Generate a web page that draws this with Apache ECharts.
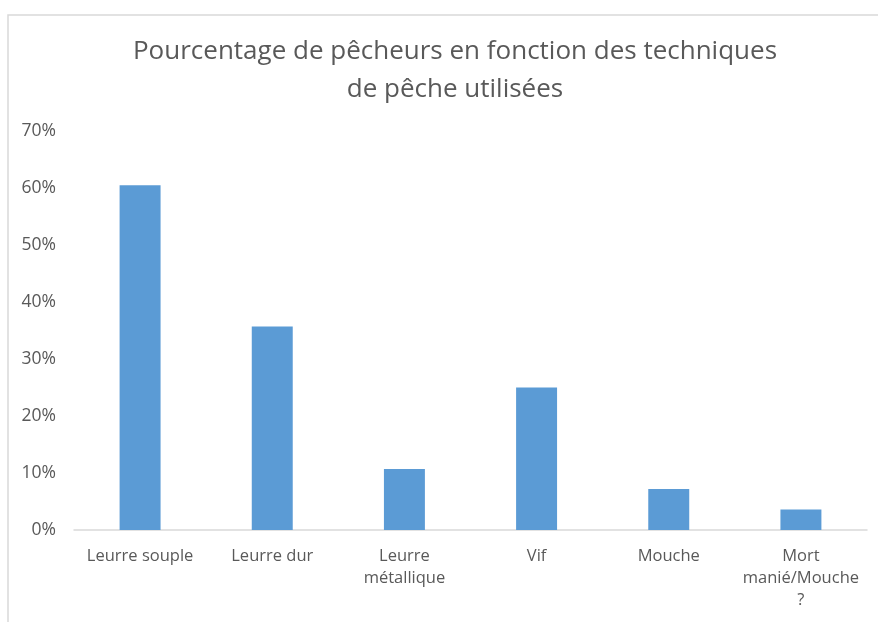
<!DOCTYPE html>
<html>
<head>
<meta charset="utf-8">
<script src="https://cdn.jsdelivr.net/npm/echarts@6/dist/echarts.min.js"></script>
<style>
  html, body { margin: 0; padding: 0; background: #fff; }
  #chart { width: 878px; height: 622px; }
</style>
</head>
<body>
<div id="chart"></div>
<script>
// catégories (axe x) et valeurs en %
var categories = ['Leurre souple', 'Leurre dur', 'Leurre\nmétallique', 'Vif', 'Mouche', 'Mort\nmanié/Mouche\n?'];
var values = [60.5, 35.7, 10.7, 25.0, 7.2, 3.6];
var yTicks = [0, 10, 20, 30, 40, 50, 60, 70];

var textColor = '#595959';
var font = '"Open Sans", "Liberation Sans", sans-serif';

var option = {
    animation: false,
    backgroundColor: '#fff',
    title: {
        text: 'Pourcentage de pêcheurs en fonction des techniques\nde pêche utilisées',
        left: 450,
        top: 28,
        textAlign: 'center',
        textStyle: {
            color: textColor,
            fontFamily: font,
            fontWeight: 'normal',
            fontSize: 26,
            lineHeight: 38
        }
    },
    graphic: [{
        type: 'rect',
        shape: { x: 8, y: 15, width: 900, height: 700 },
        style: { fill: 'none', stroke: '#d9d9d9', lineWidth: 1.5 },
        silent: true
    }],
    grid: { left: 74, right: 11, top: 131, bottom: 92 },
    xAxis: {
        type: 'category',
        data: categories,
        axisTick: { show: false },
        axisLine: { lineStyle: { color: '#d9d9d9', width: 1.5 } },
        axisLabel: {
            color: textColor,
            fontFamily: font,
            fontSize: 16.5,
            lineHeight: 22,
            margin: 15,
            interval: 0
        }
    },
    yAxis: {
        type: 'value',
        min: yTicks[0],
        max: yTicks[yTicks.length - 1],
        interval: 10,
        splitLine: { show: false },
        axisLine: { show: false },
        axisTick: { show: false },
        axisLabel: {
            color: textColor,
            fontFamily: font,
            fontSize: 17.5,
            margin: 18,
            formatter: '{value}%'
        }
    },
    series: [{
        type: 'bar',
        data: values,
        barWidth: '31%',
        itemStyle: { color: '#5B9BD5' }
    }]
};

var myChart = echarts.init(document.getElementById('chart'));
myChart.setOption(option);
</script>
</body>
</html>
